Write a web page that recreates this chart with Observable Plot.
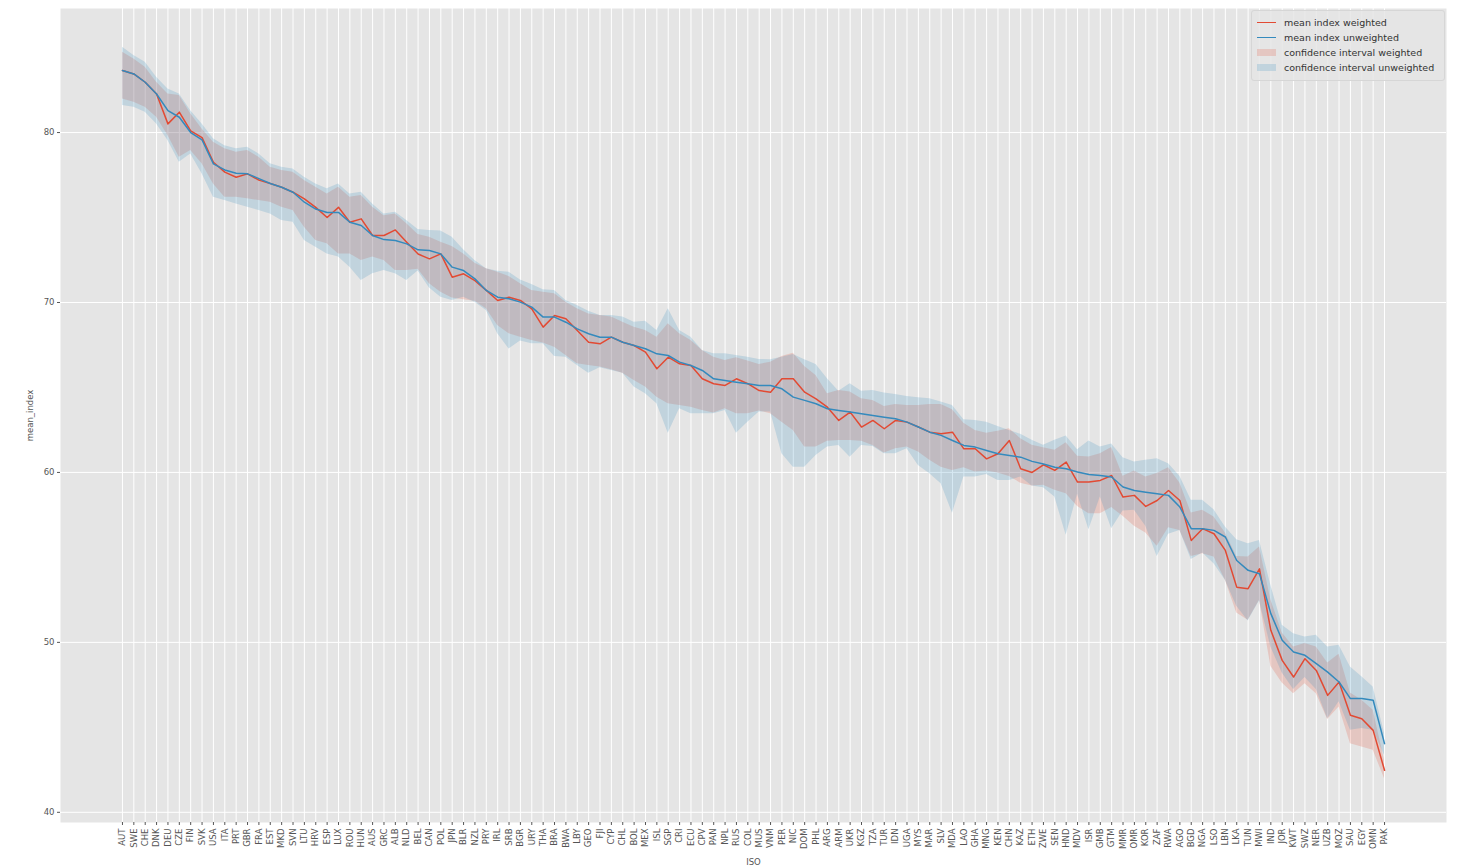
<!DOCTYPE html>
<html>
<head>
<meta charset="utf-8">
<script src="https://cdn.jsdelivr.net/npm/d3@7"></script>
<script src="https://cdn.jsdelivr.net/npm/@observablehq/plot@0.6"></script>
<style>
  html, body { margin: 0; padding: 0; background: #ffffff; }
  #wrap { position: relative; width: 1459px; height: 868px; font-family: "DejaVu Sans", sans-serif; }
  #legend {
    position: absolute; left: 1251px; top: 10px; width: 192px; padding: 4px 0 5px 0;
    background: rgba(229,229,229,0.85); border: 1px solid #d6d6d6; border-radius: 3px;
    font-size: 9.5px; color: #333;
  }
  .item { display: flex; align-items: center; height: 15px; }
  .sw { width: 19px; margin: 0 8px 0 5px; }
  .ln { height: 1.6px; }
  .pt { height: 7px; }
</style>
</head>
<body>
<div id="wrap">
  <div id="chart"></div>
  <div id="legend"></div>
</div>
<script>
// Country codes in ranking order
const iso = ["AUT","SWE","CHE","DNK","DEU","CZE","FIN","SVK","USA","ITA","PRT","GBR","FRA","EST","MKD","SVN","LTU","HRV","ESP","LUX","ROU","HUN","AUS","GRC","ALB","NLD","BEL","CAN","POL","JPN","BLR","NZL","PRY","IRL","SRB","BGR","URY","THA","BRA","BWA","LBY","GEO","FJI","CYP","CHL","BOL","MEX","ISL","SGP","CRI","ECU","CPV","PAN","NPL","RUS","COL","MUS","VNM","PER","NIC","DOM","PHL","ARG","ARM","UKR","KGZ","TZA","TUR","IDN","UGA","MYS","MAR","SLV","MDA","LAO","GHA","MNG","KEN","CHN","KAZ","ETH","ZWE","SEN","HND","MDV","ISR","GMB","GTM","MMR","OMR","KOR","ZAF","RWA","AGO","BGD","NGA","LSO","LBN","LKA","TUN","MWI","IND","JOR","KWT","SWZ","NER","UZB","MOZ","SAU","EGY","OMN","PAK"];

// Mean index, weighted
const meanWeighted = [83.65,83.45,82.96,82.27,80.51,81.2,80.1,79.7,78.25,77.67,77.37,77.57,77.2,77.0,76.78,76.49,76.1,75.6,75.0,75.6,74.72,74.92,73.94,73.94,74.27,73.55,72.85,72.57,72.86,71.49,71.69,71.29,70.71,70.12,70.31,70.12,69.63,68.55,69.24,69.04,68.35,67.66,67.57,67.96,67.66,67.47,67.08,66.1,66.78,66.39,66.29,65.51,65.22,65.12,65.51,65.22,64.82,64.72,65.51,65.51,64.72,64.33,63.84,63.06,63.55,62.67,63.06,62.57,63.06,62.96,62.67,62.37,62.27,62.37,61.39,61.39,60.8,61.1,61.88,60.22,60.0,60.45,60.12,60.61,59.43,59.43,59.53,59.82,58.55,58.65,58.0,58.35,58.94,58.35,56.0,56.69,56.39,55.41,53.25,53.16,54.33,50.71,48.94,47.96,49.04,48.35,46.88,47.67,45.71,45.51,44.82,42.47];

// Mean index, unweighted
const meanUnweighted = [83.65,83.45,82.96,82.27,81.29,80.9,80.0,79.57,78.16,77.8,77.6,77.57,77.29,77.0,76.78,76.49,75.9,75.5,75.3,75.3,74.72,74.53,73.94,73.7,73.65,73.45,73.1,73.06,72.86,72.08,71.88,71.39,70.71,70.31,70.22,70.02,69.73,69.14,69.14,68.84,68.45,68.16,67.96,67.96,67.66,67.47,67.28,66.98,66.88,66.49,66.29,66.0,65.51,65.41,65.31,65.22,65.12,65.12,64.92,64.43,64.24,64.04,63.75,63.65,63.55,63.45,63.35,63.25,63.16,62.96,62.67,62.37,62.18,61.88,61.59,61.49,61.29,61.1,61.0,60.9,60.65,60.5,60.31,60.22,60.02,59.88,59.82,59.73,59.14,58.94,58.84,58.75,58.65,57.96,56.69,56.69,56.59,56.2,54.82,54.24,54.04,51.69,50.12,49.43,49.24,48.75,48.25,47.67,46.69,46.69,46.59,44.04];

// Confidence interval bounds, weighted
const ciWeightedLow = [81.98,81.78,81.49,80.9,79.82,78.55,78.94,78.16,76.98,76.2,76.2,76.1,76.0,75.9,75.61,75.41,74.43,73.65,73.45,72.86,72.86,72.47,72.67,72.47,71.88,71.88,71.95,71.1,70.61,70.27,70.16,70.08,69.63,68.65,68.16,67.96,67.76,67.61,67.37,66.88,66.39,66.29,66.2,66.04,65.84,65.41,65.02,64.43,64.04,63.94,63.84,63.65,63.5,63.74,63.45,63.45,63.61,63.45,62.96,62.47,61.49,61.49,61.84,61.88,61.88,61.84,61.59,61.14,61.39,61.49,61.2,60.71,60.31,60.12,60.27,60.02,60.08,59.96,59.76,59.37,59.2,59.25,58.95,58.75,58.0,57.57,57.57,57.93,57.42,56.83,56.44,55.65,56.75,56.59,55.06,55.22,55.02,53.65,51.73,51.3,52.48,48.59,47.61,46.98,47.57,46.98,45.46,46.2,44.04,43.85,43.65,41.98];
const ciWeightedHigh = [84.72,84.33,83.84,82.96,82.27,82.18,81.1,80.21,79.43,79.04,78.84,78.94,78.55,77.96,77.76,77.66,77.18,76.78,76.39,76.78,76.2,76.29,75.61,75.1,75.2,74.63,74.0,73.84,73.55,73.29,72.86,72.31,71.98,71.78,71.53,71.1,70.71,70.61,70.51,70.02,69.63,69.33,69.24,69.14,68.84,68.55,68.35,67.96,68.75,68.16,67.76,67.18,66.78,66.59,66.75,66.55,66.35,66.49,66.82,67.02,66.24,65.71,64.63,64.82,64.73,64.33,64.24,63.88,64.0,63.94,63.94,64.0,64.0,63.69,62.9,62.47,62.31,62.43,62.57,61.98,61.6,61.45,61.3,61.75,60.95,60.91,61.1,61.46,59.77,60.08,59.73,59.93,60.28,59.38,57.61,57.77,57.38,56.44,55.06,55.02,55.61,52.51,50.55,49.73,49.93,49.73,48.79,49.3,47.02,46.59,46.0,43.06];

// Confidence interval bounds, unweighted
const ciUnweightedLow = [81.59,81.49,81.2,80.51,79.53,78.25,78.74,77.57,76.2,76.0,75.8,75.61,75.41,75.2,74.82,74.72,73.65,73.25,72.86,72.67,72.08,71.29,71.69,71.88,71.69,71.29,71.85,70.86,70.31,70.12,70.31,70.02,69.53,68.16,67.27,67.73,67.57,67.57,66.82,66.78,66.29,65.84,66.16,66.0,65.84,65.02,64.63,64.04,62.3,63.75,63.45,63.45,63.45,63.65,62.31,62.96,63.55,63.55,61.1,60.31,60.31,61.0,61.49,61.59,60.9,61.59,61.53,61.1,61.1,61.39,60.41,59.92,59.33,57.6,59.73,59.73,59.88,59.53,59.53,59.73,59.2,59.1,58.55,56.3,58.71,56.63,58.55,56.69,57.73,57.77,56.83,55.06,56.36,56.59,54.87,55.26,54.63,53.65,52.12,51.26,52.44,49.73,48.2,47.22,47.93,47.22,45.51,46.5,44.83,44.93,44.83,43.36];
const ciUnweightedHigh = [85.02,84.53,84.14,83.25,82.57,82.27,81.29,80.51,79.63,79.23,79.04,79.14,78.74,78.16,77.96,77.86,77.37,76.98,76.69,76.98,76.39,76.49,75.8,75.2,75.31,74.82,74.3,74.24,74.2,73.84,73.1,72.47,71.98,71.84,71.78,71.33,71.06,70.75,70.71,70.12,69.82,69.49,69.24,69.24,69.14,68.84,68.9,68.35,69.63,68.35,67.96,67.18,66.98,66.98,66.88,66.78,66.65,66.63,66.78,66.94,66.63,66.35,65.51,64.78,65.22,64.78,64.82,64.67,64.59,64.47,64.39,64.33,64.14,63.94,63.1,63.06,62.96,62.71,62.47,62.24,61.9,61.6,61.89,62.14,61.34,61.85,61.49,61.67,60.87,60.61,60.71,60.81,60.51,59.77,58.36,58.36,57.81,56.79,56.04,55.81,56.0,53.36,51.0,50.51,50.32,50.42,49.73,49.83,48.55,47.97,47.38,44.63];

const yTicks = [40, 50, 60, 70, 80];

const series = [
  {label: "mean index weighted", kind: "line", color: "#E24A33"},
  {label: "mean index unweighted", kind: "line", color: "#348ABD"},
  {label: "confidence interval weighted", kind: "patch", color: "rgba(226,74,51,0.2)"},
  {label: "confidence interval unweighted", kind: "patch", color: "rgba(52,138,189,0.2)"}
];

const rows = iso.map((code, i) => ({
  code,
  w: meanWeighted[i], u: meanUnweighted[i],
  wLo: ciWeightedLow[i], wHi: ciWeightedHigh[i],
  uLo: ciUnweightedLow[i], uHi: ciUnweightedHigh[i]
}));

const chart = Plot.plot({
  width: 1459,
  height: 868,
  marginLeft: 60,
  marginRight: 13,
  marginTop: 8,
  marginBottom: 46,
  style: {fontFamily: "DejaVu Sans, sans-serif", fontSize: "9px", color: "#555", background: "transparent"},
  x: {type: "point", domain: iso, padding: 5.45},
  y: {domain: [39.4, 87.3]},
  marks: [
    Plot.frame({fill: "#e5e5e5", stroke: null}),
    Plot.ruleX(iso, {stroke: "#ffffff", strokeWidth: 1}),
    Plot.ruleY(yTicks, {stroke: "#ffffff", strokeWidth: 1}),
    Plot.areaY(rows, {x: "code", y1: "wLo", y2: "wHi", fill: "#E24A33", fillOpacity: 0.2}),
    Plot.areaY(rows, {x: "code", y1: "uLo", y2: "uHi", fill: "#348ABD", fillOpacity: 0.2}),
    Plot.lineY(rows, {x: "code", y: "w", stroke: "#E24A33", strokeWidth: 1.5}),
    Plot.lineY(rows, {x: "code", y: "u", stroke: "#348ABD", strokeWidth: 1.5}),
    Plot.axisX({
      tickRotate: -90, tickSize: 3, tickPadding: 3, fontSize: 8.5,
      label: "ISO", labelAnchor: "center", labelOffset: 42, labelArrow: "none"
    }),
    Plot.axisY({
      ticks: yTicks, tickSize: 3, tickPadding: 3, fontSize: 8.5,
      label: "mean_index", labelAnchor: "center", labelOffset: 34, labelArrow: "none"
    })
  ]
});
document.getElementById("chart").appendChild(chart);

// Legend
const legend = d3.select("#legend");
for (const s of series) {
  const item = legend.append("div").attr("class", "item");
  item.append("div").attr("class", "sw " + (s.kind === "line" ? "ln" : "pt")).style("background", s.color);
  item.append("span").text(s.label);
}
</script>
</body>
</html>
